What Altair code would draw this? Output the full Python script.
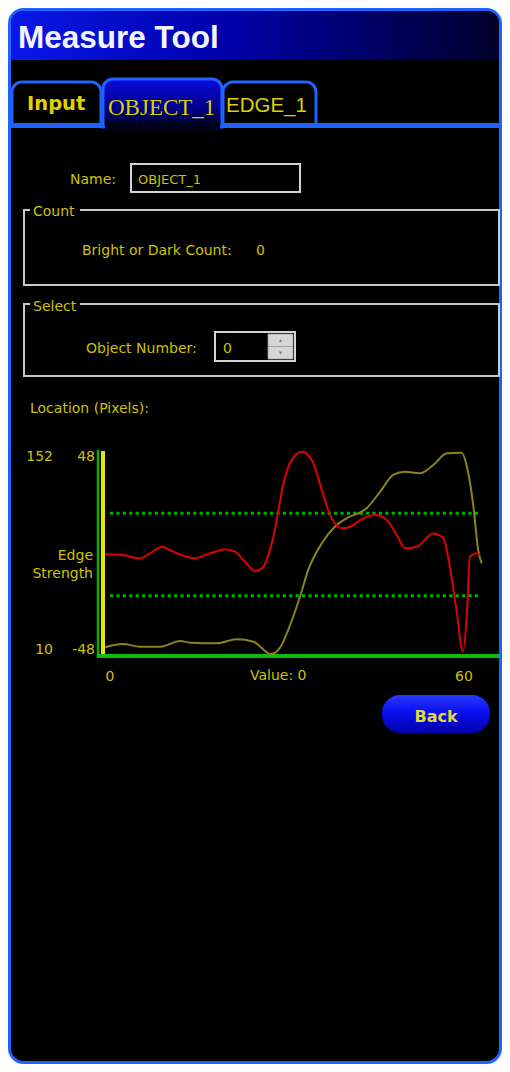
import altair as alt
import pandas as pd

# ---------------- data ----------------
RED_X = [-0.8, 2.2, 5.1, 6.8, 8.8, 10.7, 13.0, 14.4, 16.1, 17.8, 19.5, 21.2, 22.9, 24.6,
         26.0, 27.1, 28.0, 28.5, 29.4, 30.5, 32.5, 34.2, 35.9, 37.3, 39.3, 40.7, 42.9,
         44.9, 46.9, 48.6, 50.0, 52.0, 54.8, 56.5, 57.6, 58.8, 59.8, 60.5, 61.0, 62.2, 62.7]
RED_Y = [-0.4, -0.8, -2.4, 0.1, 3.4, 0.9, -1.6, -2.4, -0.8, 0.9, 2.1, 0.9, -4.1, -8.7,
         -6.6, 1.7, 12.5, 20.8, 34.9, 44.9, 50.6, 46.5, 31.6, 19.2, 12.5, 13.3, 17.5,
         19.2, 16.7, 9.2, 2.6, 3.4, 10.0, 7.6, -6.6, -29.7, -48.8, -29.7, -1.6, 0.1, -0.8]

LOC_X = [-0.8, 2.2, 5.1, 8.5, 11.9, 13.6, 18.1, 21.5, 24.3, 27.3, 29.1, 30.2, 32.2, 33.6,
         35.9, 38.1, 40.1, 43.5, 45.8, 48.0, 50.0, 52.5, 54.8, 57.1, 59.6, 60.5, 61.6, 62.4, 63.0]
LOC_Y = [12.0, 14.4, 12.4, 12.4, 16.6, 15.4, 14.9, 17.9, 16.1, 7.0, 13.7, 24.7, 49.2, 68.9,
         88.5, 100.7, 106.9, 114.3, 126.5, 138.8, 141.2, 140.0, 146.1, 154.7, 155.2, 144.9,
         115.4, 83.6, 73.8]

THRESHOLDS = [20, -21]
X_TICKS = [0, 60]
EDGE_TICKS = [48, -48]
LOC_TICKS = [152, 10]

TITLE = "Measure Tool"
TABS = ["Input", "OBJECT_1", "EDGE_1"]
NAME_LABEL = "Name:"
NAME_VALUE = "OBJECT_1"
COUNT_GROUP = "Count"
COUNT_LABEL = "Bright or Dark Count:"
COUNT_VALUE = "0"
SELECT_GROUP = "Select"
SELECT_LABEL = "Object Number:"
SELECT_VALUE = "0"
LOCATION_LABEL = "Location (Pixels):"
EDGE_LABEL = ["Edge", "Strength"]
VALUE_LABEL = "Value:  0"
BACK_LABEL = "Back"

# ---------------- styling ----------------
OFF = 8
W, H = 494, 1056
def P(v):
    return v - OFF

YEL = "#cfc000"
BLUE = "#1f63ff"
GREY = "#c8c8c8"
GREEN = "#00b400"
FONT = "DejaVu Sans"
RIGHT = OFF + W      # page x of the chart's right edge
BOTTOM = OFF + H     # page y of the chart's bottom edge

one = pd.DataFrame({"a": [0]})


def rect(x, y, x2, y2, **kw):
    return alt.Chart(one).mark_rect(**kw).encode(
        x=alt.value(P(x)), x2=alt.value(P(x2)), y=alt.value(P(y)), y2=alt.value(P(y2)))


def text(s, x, y, size=14, color=YEL, align="left", font=FONT, **kw):
    return alt.Chart(one).mark_text(
        text=s, align=align, baseline="alphabetic", fontSize=size, color=color,
        font=font, **kw).encode(x=alt.value(P(x)), y=alt.value(P(y)))


def grad(stops, vertical=False):
    return alt.LinearGradient(
        gradient="linear",
        stops=[alt.GradientStop(color=c, offset=o) for o, c in stops],
        x1=0, x2=0 if vertical else 1, y1=0, y2=1 if vertical else 0)


layers = []

# window frame
layers.append(rect(9.5, 9.5, RIGHT - 1.5, BOTTOM - 1.5, fill="#000000", stroke=BLUE,
                   strokeWidth=3, cornerRadius=14))
# title bar
layers.append(rect(11, 11, RIGHT - 3, 60, cornerRadiusTopLeft=12, cornerRadiusTopRight=12,
                   fill=grad([(0, "#0a18e8"), (0.45, "#0000a8"), (1, "#00002a")])))
layers.append(text(TITLE, 18, 48, size=31.5, color="#f4f4ff",
                   font="Liberation Sans", fontWeight="bold"))

# tabs
layers.append(rect(12, 82, 101, 126, fill="#000000", stroke=BLUE, strokeWidth=3,
                   cornerRadiusTopLeft=10, cornerRadiusTopRight=10))
layers.append(rect(223, 82, 316, 126, fill="#000000", stroke=BLUE, strokeWidth=3,
                   cornerRadiusTopLeft=10, cornerRadiusTopRight=10))
layers.append(rect(9, 123, RIGHT - 1, 128, fill=BLUE))
layers.append(rect(103, 79, 222, 127, stroke=BLUE, strokeWidth=3,
                   cornerRadiusTopLeft=10, cornerRadiusTopRight=10,
                   fill=grad([(0, "#0a0ae0"), (0.6, "#00008a"), (1, "#000020")], vertical=True)))
layers.append(rect(105, 121, 220, 129, fill="#000020"))
layers.append(text(TABS[0], 27, 110, size=19.5, color="#e0d200", fontWeight="bold"))
layers.append(text(TABS[1], 108, 115, size=23, color="#dcd000", font="Liberation Serif"))
layers.append(text(TABS[2], 226, 112, size=20.5, color="#dcd000", font="Liberation Sans"))

# name field
layers.append(text(NAME_LABEL, 70, 184))
layers.append(rect(131, 164, 300, 192, fill="#000000", stroke="#d4d4d4", strokeWidth=2))
layers.append(text(NAME_VALUE, 138, 184, size=13))

# count group
layers.append(rect(24, 210, RIGHT - 3, 285, fill="#000000", stroke=GREY, strokeWidth=2))
layers.append(rect(30, 203, 80, 218, fill="#000000"))
layers.append(text(COUNT_GROUP, 33, 216))
layers.append(text(COUNT_LABEL, 82, 255))
layers.append(text(COUNT_VALUE, 256, 255))

# select group
layers.append(rect(24, 304, RIGHT - 3, 376, fill="#000000", stroke=GREY, strokeWidth=2))
layers.append(rect(30, 297, 80, 312, fill="#000000"))
layers.append(text(SELECT_GROUP, 33, 311))
layers.append(text(SELECT_LABEL, 86, 353))
layers.append(rect(215, 332, 295, 361, fill="#000000", stroke="#d4d4d4", strokeWidth=2))
layers.append(text(SELECT_VALUE, 223, 353))
layers.append(rect(268, 334, 293, 346.5, fill="#d6d6d6", stroke="#9a9a9a", strokeWidth=0.8))
layers.append(rect(268, 346.5, 293, 359, fill="#d6d6d6", stroke="#9a9a9a", strokeWidth=0.8))
layers.append(alt.Chart(one).mark_point(shape="triangle-up", size=12, filled=True,
                                         color="#7a7a7a", opacity=1).encode(
    x=alt.value(P(280.5)), y=alt.value(P(340.5))))
layers.append(alt.Chart(one).mark_point(shape="triangle-down", size=12, filled=True,
                                         color="#7a7a7a", opacity=1).encode(
    x=alt.value(P(280.5)), y=alt.value(P(353))))

layers.append(text(LOCATION_LABEL, 30, 413))

# ---------------- plot ----------------
XS = alt.Scale(domain=[0, 60], range=[P(110), P(464)], nice=False, zero=False)
RS = alt.Scale(domain=[-48, 48], range=[P(650), P(457)], nice=False, zero=False)
LS = alt.Scale(domain=[10, 152], range=[P(650), P(457)], nice=False, zero=False)

# axis lines
layers.append(alt.Chart(one).mark_rule(color=GREEN, strokeWidth=2.5).encode(
    x=alt.value(P(98)), y=alt.value(P(450)), y2=alt.value(P(657))))
layers.append(alt.Chart(one).mark_rule(color="#e6e600", strokeWidth=4).encode(
    x=alt.value(P(103)), y=alt.value(P(451)), y2=alt.value(P(655))))
layers.append(alt.Chart(one).mark_rule(color="#10b810", strokeWidth=4).encode(
    y=alt.value(P(656)), x=alt.value(P(97)), x2=alt.value(P(500))))

# threshold lines
thr = pd.DataFrame({"t": THRESHOLDS})
layers.append(alt.Chart(thr).mark_rule(color="#00b000", strokeWidth=3,
                                       strokeDash=[3.2, 3.2]).encode(
    y=alt.Y("t:Q", scale=RS, axis=None), x=alt.value(P(110)), x2=alt.value(P(479))))

red = pd.DataFrame({"x": RED_X, "y": RED_Y})
loc = pd.DataFrame({"x": LOC_X, "y": LOC_Y})
layers.append(alt.Chart(loc).mark_line(color="#88841e", strokeWidth=2,
                                       interpolate="monotone").encode(
    x=alt.X("x:Q", scale=XS, axis=None), y=alt.Y("y:Q", scale=LS, axis=None)))
layers.append(alt.Chart(red).mark_line(color="#e00000", strokeWidth=2,
                                       interpolate="monotone").encode(
    x=alt.X("x:Q", scale=XS, axis=None), y=alt.Y("y:Q", scale=RS, axis=None)))

# tick labels
et = pd.DataFrame({"v": EDGE_TICKS, "label": [str(v) for v in EDGE_TICKS]})
lt = pd.DataFrame({"v": LOC_TICKS, "label": [str(v) for v in LOC_TICKS]})
xt = pd.DataFrame({"v": X_TICKS, "label": [str(v) for v in X_TICKS]})
layers.append(alt.Chart(et).mark_text(align="right", baseline="middle", fontSize=14,
                                      color=YEL, font=FONT).encode(
    x=alt.value(P(95)), y=alt.Y("v:Q", scale=RS, axis=None), text="label:N"))
layers.append(alt.Chart(lt).mark_text(align="right", baseline="middle", fontSize=14,
                                      color=YEL, font=FONT).encode(
    x=alt.value(P(53)), y=alt.Y("v:Q", scale=LS, axis=None), text="label:N"))
layers.append(alt.Chart(xt).mark_text(align="center", baseline="alphabetic", fontSize=14,
                                      color=YEL, font=FONT).encode(
    x=alt.X("v:Q", scale=XS, axis=None), y=alt.value(P(681)), text="label:N"))
layers.append(text(EDGE_LABEL[0], 93, 560, align="right"))
layers.append(text(EDGE_LABEL[1], 93, 578, align="right"))
layers.append(text(VALUE_LABEL, 250, 680))

# back button
layers.append(rect(382, 695, 490, 733, cornerRadius=18,
                   fill=grad([(0, "#2a3aff"), (0.45, "#0a10f0"), (1, "#0000a8")], vertical=True)))
layers.append(text(BACK_LABEL, 436, 722, size=16, color="#e2d840", align="center",
                   fontWeight="bold"))

chart = alt.layer(*layers).resolve_scale(x="independent", y="independent").properties(
    width=W, height=H, padding=0, autosize="none", background="#ffffff"
).configure_view(stroke=None)

chart.save("out.html", embed_options={"renderer": "svg", "actions": False})
